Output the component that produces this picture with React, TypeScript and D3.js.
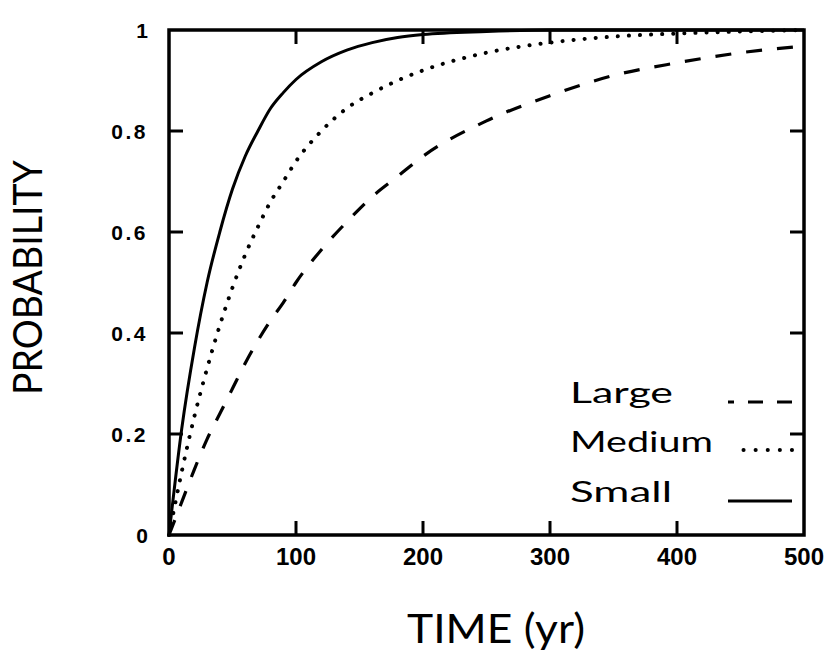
import React from 'react';
import * as d3 from 'd3';

// values (time in years, cumulative probability)
const times = [0, 10, 20, 30, 40, 50, 60, 70, 80, 90, 100, 120, 140, 160, 180, 200, 250, 300, 350, 400, 450, 500];
const smallProb = [0, 0.21, 0.37, 0.5, 0.6, 0.685, 0.75, 0.8, 0.845, 0.876, 0.902, 0.937, 0.96, 0.975, 0.985, 0.991, 0.997, 1, 1, 1, 1, 1];
const mediumProb = [0, 0.125, 0.235, 0.33, 0.415, 0.49, 0.555, 0.61, 0.66, 0.7, 0.74, 0.8, 0.845, 0.875, 0.9, 0.92, 0.955, 0.975, 0.987, 0.993, 0.997, 1];
const largeProb = [0, 0.065, 0.13, 0.19, 0.24, 0.29, 0.34, 0.385, 0.425, 0.46, 0.5, 0.565, 0.62, 0.67, 0.71, 0.75, 0.82, 0.87, 0.91, 0.935, 0.955, 0.968];

const xTicks = [0, 100, 200, 300, 400, 500];
const yTicks = [0, 0.2, 0.4, 0.6, 0.8, 1];
const yTickLabels = ['0', '0.2', '0.4', '0.6', '0.8', '1'];

const legendNames = ['Large', 'Medium', 'Small'];

const W = 829;
const H = 656;
const left = 169, right = 804, top = 30, bottom = 535;
const tickLen = 14;

const dashFor: Record<string, { dash?: string; width: number; cap: string }> = {
  Large: { dash: '16 15', width: 3.2, cap: 'butt' },
  Medium: { dash: '0.1 11', width: 4, cap: 'round' },
  Small: { dash: undefined, width: 3, cap: 'butt' },
};

export default function App() {
  const x = d3.scaleLinear().domain([0, 500]).range([left, right]);
  const y = d3.scaleLinear().domain([0, 1]).range([bottom, top]);

  const line = d3
    .line<number>()
    .x((_, i) => x(times[i]))
    .y((d) => y(d))
    .curve(d3.curveMonotoneX);

  const series = [
    { name: 'Large', values: largeProb },
    { name: 'Medium', values: mediumProb },
    { name: 'Small', values: smallProb },
  ];

  const tickFont = '"Liberation Sans", Arial, sans-serif';
  const titleFont = 'Lato, "Noto Sans", sans-serif';

  const legendBaselines = [403, 452, 502];
  const legendWidths = [103, 143, 102];

  return (
    <svg width={W} height={H} style={{ position: 'absolute', left: 0, top: 0, background: '#fff' }}>
      <rect width={W} height={H} fill="#fff" />

      {series.map((s) => {
        const st = dashFor[s.name];
        return (
          <path
            key={s.name}
            d={line(s.values) || ''}
            fill="none"
            stroke="#000"
            strokeWidth={st.width}
            strokeDasharray={st.dash}
            strokeLinecap={st.cap as any}
          />
        );
      })}

      {/* frame */}
      <rect x={left} y={top} width={right - left} height={bottom - top} fill="none" stroke="#000" strokeWidth={3.5} />

      {/* ticks */}
      {xTicks.slice(1, -1).map((t) => (
        <g key={'xt' + t}>
          <line x1={x(t)} x2={x(t)} y1={bottom} y2={bottom - tickLen} stroke="#000" strokeWidth={3} />
          <line x1={x(t)} x2={x(t)} y1={top} y2={top + tickLen} stroke="#000" strokeWidth={3} />
        </g>
      ))}
      {yTicks.slice(1, -1).map((t) => (
        <g key={'yt' + t}>
          <line x1={left} x2={left + tickLen} y1={y(t)} y2={y(t)} stroke="#000" strokeWidth={3} />
          <line x1={right} x2={right - tickLen} y1={y(t)} y2={y(t)} stroke="#000" strokeWidth={3} />
        </g>
      ))}

      {/* tick labels */}
      {xTicks.map((t) => (
        <text key={'xl' + t} x={x(t)} y={565} textAnchor="middle" fontFamily={tickFont} fontWeight="bold" fontSize={24}>
          {t}
        </text>
      ))}
      {yTicks.map((t, i) => (
        <text
          key={'yl' + t}
          x={148}
          y={y(t)}
          dy="0.36em"
          textAnchor="end"
          fontFamily={tickFont}
          fontWeight="bold"
          fontSize={21}
          letterSpacing={i === 0 || i === yTicks.length - 1 ? 0 : 2.5}
        >
          {yTickLabels[i]}
        </text>
      ))}

      {/* axis titles */}
      <text x={407} y={643} fontFamily={titleFont} fontSize={41} textLength={178} lengthAdjust="spacingAndGlyphs">
        TIME  (yr)
      </text>
      <text
        transform="translate(42,395) rotate(-90)"
        x={0}
        y={0}
        fontFamily={titleFont}
        fontSize={40}
        textLength={235}
        lengthAdjust="spacingAndGlyphs"
      >
        PROBABILITY
      </text>

      {/* legend */}
      {legendNames.map((name, i) => {
        const st = dashFor[name];
        const ly = legendBaselines[i] - (name === 'Medium' ? 2 : 1);
        return (
          <g key={'lg' + name}>
            <text x={570} y={legendBaselines[i]} fontFamily={titleFont} fontSize={28} textLength={legendWidths[i]} lengthAdjust="spacingAndGlyphs">
              {name}
            </text>
            <line
              x1={792}
              x2={name === 'Medium' ? 737 : 728}
              y1={ly}
              y2={ly}
              stroke="#000"
              strokeWidth={st.width}
              strokeDasharray={name === 'Medium' ? '0.1 12' : name === 'Large' ? '15 14' : undefined}
              strokeLinecap={st.cap as any}
            />
          </g>
        );
      })}
    </svg>
  );
}
